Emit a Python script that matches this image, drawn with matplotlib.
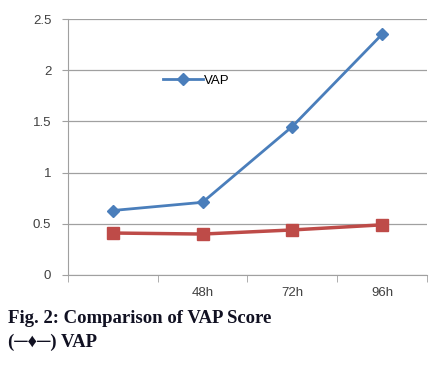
import numpy as np
import matplotlib
matplotlib.use('Agg')
import matplotlib.pyplot as plt

categories = ['', '48h', '72h', '96h']
vap = [0.63, 0.71, 1.45, 2.35]
other = [0.41, 0.40, 0.44, 0.49]
y_ticks = [0, 0.5, 1, 1.5, 2, 2.5]
y_labels = ['0', '0.5', '1', '1.5', '2', '2.5']

fig = plt.figure(figsize=(4.4, 3.67), dpi=100)
ax = fig.add_axes([0.1545, 0.2507, 0.8155, 0.6973])

x = np.arange(len(categories))
ax.plot(x, vap, color='#4a7ebb', lw=2, marker='D', ms=6, label='VAP')
ax.plot(x, other, color='#be4b48', lw=2.5, marker='s', ms=8)

ax.set_xlim(-0.5, len(categories) - 0.5)
ax.set_ylim(0, 2.5)
ax.set_yticks(y_ticks)
ax.set_yticklabels(y_labels)
ax.set_xticks(x)
ax.set_xticklabels(categories)
ax.set_xticks(np.arange(-0.5, len(categories)), minor=True)

ax.grid(axis='y', color='#a0a0a0', lw=0.9)
ax.set_axisbelow(True)
for s in ['top', 'right']:
    ax.spines[s].set_visible(False)
for s in ['left', 'bottom']:
    ax.spines[s].set_color('#a0a0a0')
ax.tick_params(axis='x', which='major', length=0, pad=9, labelsize=9.5, labelcolor='#404040')
ax.tick_params(axis='x', which='minor', length=5, color='#a0a0a0')
ax.tick_params(axis='y', length=4, color='#a0a0a0', labelsize=9.5, labelcolor='#404040', pad=8)
for lab in ax.get_xticklabels() + ax.get_yticklabels():
    lab.set_family('Liberation Sans')

ax.legend(loc='center left', bbox_to_anchor=(0.265, 0.76), frameon=False,
          handlelength=3.0, handletextpad=0.1, borderaxespad=0, borderpad=0,
          prop={'family': 'Liberation Sans', 'size': 9.5})

fig.text(0.018, 0.133, 'Fig. 2: Comparison of VAP Score', fontsize=13.5, weight='bold',
         family=['Liberation Serif', 'DejaVu Serif'], color='#111122', va='center')
fig.text(0.018, 0.067, '(\u2500\u2666\u2500) VAP', fontsize=13.5, weight='bold',
         family=['Liberation Serif', 'DejaVu Sans'], color='#111122', va='center')

fig.savefig('out.png', dpi=100)
